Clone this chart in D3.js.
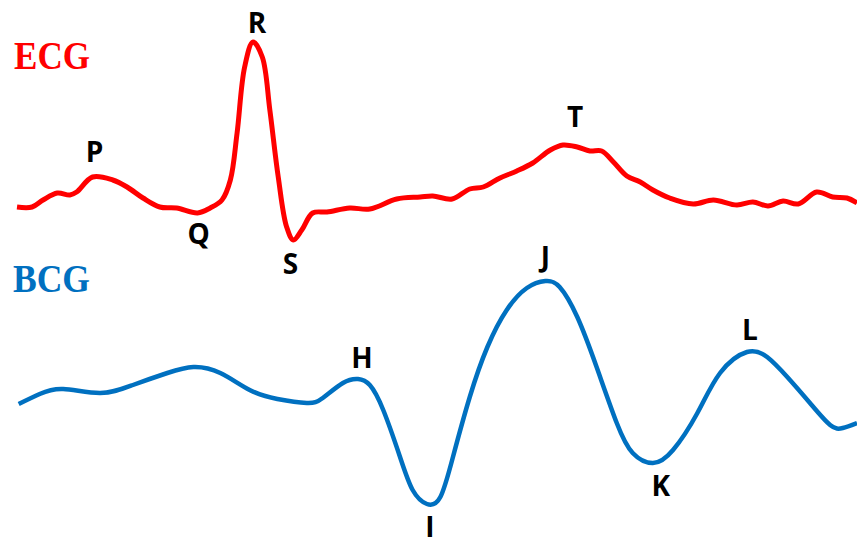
<!DOCTYPE html>
<html>
<head>
<meta charset="utf-8">
<script src="https://cdn.jsdelivr.net/npm/d3@7"></script>
<style>
  html, body { margin: 0; padding: 0; background: #fff; }
  svg { display: block; }
</style>
</head>
<body>
<script>
// One cardiac cycle: time in seconds, ECG in mV, BCG in arbitrary units.
const ecgTime = [0, 0.018, 0.031, 0.048, 0.063, 0.071, 0.090, 0.114, 0.131, 0.150, 0.170, 0.190, 0.215, 0.230, 0.244, 0.254, 0.262, 0.271, 0.281, 0.292, 0.301, 0.311, 0.321, 0.329, 0.339, 0.352, 0.369, 0.396, 0.420, 0.452, 0.480, 0.495, 0.518, 0.539, 0.555, 0.575, 0.595, 0.614, 0.635, 0.650, 0.667, 0.682, 0.696, 0.710, 0.726, 0.742, 0.757, 0.777, 0.805, 0.829, 0.857, 0.876, 0.894, 0.912, 0.930, 0.952, 0.971, 0.988, 1.000];
const ecgValue = [0, 0, 0.07, 0.14, 0.12, 0.15, 0.30, 0.27, 0.20, 0.09, 0.00, -0.01, -0.06, -0.01, 0.07, 0.27, 0.74, 1.40, 1.65, 1.50, 0.97, 0.30, -0.20, -0.33, -0.23, -0.06, -0.05, -0.01, -0.02, 0.08, 0.10, 0.11, 0.08, 0.18, 0.20, 0.29, 0.36, 0.44, 0.57, 0.62, 0.60, 0.56, 0.56, 0.45, 0.31, 0.25, 0.17, 0.09, 0.03, 0.07, 0.02, 0.05, 0.01, 0.06, 0.03, 0.15, 0.10, 0.09, 0.04];

const bcgTime = [0.002, 0.027, 0.055, 0.099, 0.138, 0.179, 0.210, 0.242, 0.277, 0.310, 0.345, 0.364, 0.388, 0.406, 0.420, 0.436, 0.456, 0.471, 0.488, 0.504, 0.519, 0.539, 0.560, 0.583, 0.607, 0.629, 0.646, 0.667, 0.690, 0.714, 0.733, 0.757, 0.781, 0.810, 0.837, 0.869, 0.893, 0.917, 0.944, 0.968, 0.983, 1.000];
const bcgValue = [-0.4, 0.6, 1.1, 0.7, 1.5, 2.7, 3.3, 2.7, 1.0, 0.1, -0.3, 0.2, 1.7, 2.1, 1.5, -1.0, -5.7, -9.0, -10.4, -9.7, -5.7, 0.3, 5.3, 9.0, 11.2, 11.9, 11.3, 8.3, 3.3, -2.3, -5.3, -6.3, -5.0, -1.3, 2.7, 4.8, 4.3, 2.3, -0.3, -2.5, -2.8, -2.3];

// Wave names and the sample each one marks
const ecgWaveNames = ["P", "Q", "R", "S", "T"];
const ecgWaveIndex = [6, 12, 18, 23, 39];
const bcgWaveNames = ["H", "I", "J", "K", "L"];
const bcgWaveIndex = [13, 18, 25, 31, 35];

const seriesNames = ["ECG", "BCG"];

const W = 857, H = 540;
const svg = d3.select("body").append("svg").attr("width", W).attr("height", H);

const x = d3.scaleLinear().domain([0, 1]).range([17, 857]);
const yEcg = d3.scaleLinear().domain([0, 1.65]).range([207, 42]);
const yBcg = d3.scaleLinear().domain([0, 11.9]).range([400, 281]);

const ecgPts = ecgTime.map((t, i) => [t, ecgValue[i]]);
const bcgPts = bcgTime.map((t, i) => [t, bcgValue[i]]);

const lineEcg = d3.line().x(d => x(d[0])).y(d => yEcg(d[1])).curve(d3.curveCatmullRom.alpha(0.5));
const lineBcg = d3.line().x(d => x(d[0])).y(d => yBcg(d[1])).curve(d3.curveNatural);

const red = "#ff0000", blue = "#0070c0";

svg.append("path").datum(ecgPts).attr("d", lineEcg)
  .attr("fill", "none").attr("stroke", red).attr("stroke-width", 5)
  .attr("stroke-linejoin", "round").attr("stroke-linecap", "butt");

svg.append("path").datum(bcgPts).attr("d", lineBcg)
  .attr("fill", "none").attr("stroke", blue).attr("stroke-width", 4.5)
  .attr("stroke-linejoin", "round").attr("stroke-linecap", "butt");

// Signal titles
svg.append("text").attr("x", 14).attr("y", 69).text(seriesNames[0])
  .attr("font-family", "'Liberation Serif', 'DejaVu Serif', serif")
  .attr("font-weight", "bold").attr("font-size", 40).attr("fill", red)
  .attr("textLength", 76).attr("lengthAdjust", "spacingAndGlyphs");
svg.append("text").attr("x", 13).attr("y", 292).text(seriesNames[1])
  .attr("font-family", "'Liberation Serif', 'DejaVu Serif', serif")
  .attr("font-weight", "bold").attr("font-size", 40).attr("fill", blue)
  .attr("textLength", 77).attr("lengthAdjust", "spacingAndGlyphs");

// Wave labels, offset from the marked sample
const ecgOffsets = [[2, -15], [1, 31], [4, -9], [-3, 34], [12, -18]];
const bcgOffsets = [[4, -11], [3, 33], [0, -14], [8, 33], [3, -12]];

function labels(names, idx, offs, pts, yScale) {
  svg.append("g").selectAll("text").data(names).join("text")
    .attr("x", (d, i) => x(pts[idx[i]][0]) + offs[i][0])
    .attr("y", (d, i) => yScale(pts[idx[i]][1]) + offs[i][1])
    .attr("text-anchor", "middle")
    .attr("font-family", "'Open Sans', 'Lato', sans-serif")
    .attr("font-weight", "bold").attr("font-size", 28).attr("fill", "#000")
    .text(d => d);
}
labels(ecgWaveNames, ecgWaveIndex, ecgOffsets, ecgPts, yEcg);
labels(bcgWaveNames, bcgWaveIndex, bcgOffsets, bcgPts, yBcg);
</script>
</body>
</html>
